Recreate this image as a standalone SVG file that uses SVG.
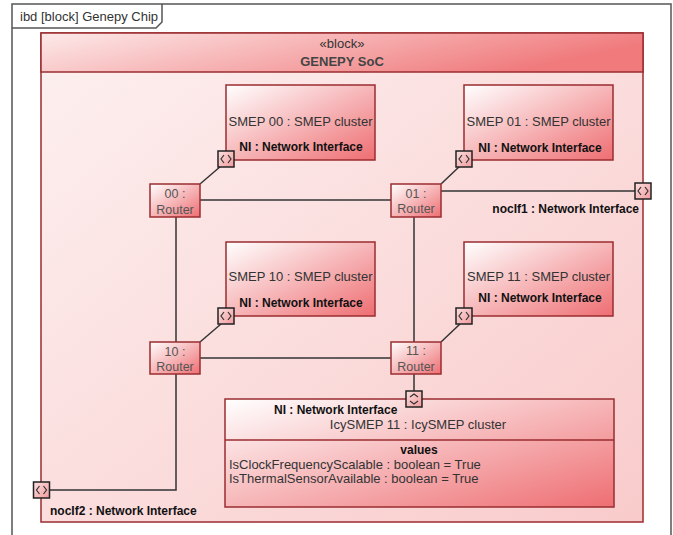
<svg xmlns="http://www.w3.org/2000/svg" width="673" height="535" viewBox="0 0 673 535">
  <defs>
    <linearGradient id="gPart" x1="0" y1="0" x2="1" y2="1">
      <stop offset="0" stop-color="#ffffff"/>
      <stop offset="1" stop-color="#ee6e72"/>
    </linearGradient>
    <linearGradient id="gBody" x1="0" y1="0" x2="1" y2="1">
      <stop offset="0" stop-color="#fdf0f0"/>
      <stop offset="1" stop-color="#f9cbcb"/>
    </linearGradient>
    <linearGradient id="gHead" x1="0" y1="0" x2="1" y2="0.3">
      <stop offset="0" stop-color="#fdeaea"/>
      <stop offset="1" stop-color="#f07a7c"/>
    </linearGradient>
    <linearGradient id="gPort" x1="0" y1="0" x2="1" y2="1">
      <stop offset="0" stop-color="#fbe0e0"/>
      <stop offset="1" stop-color="#f29a9c"/>
    </linearGradient>
    <!-- flow port: square with bidirectional chevrons -->
    <g id="portH">
      <rect x="-8" y="-8" width="16" height="16" fill="url(#gPort)" stroke="#222" stroke-width="1.5"/>
      <path d="M-2,-4 L-5,0 L-2,4 M2,-4 L5,0 L2,4" fill="none" stroke="#333" stroke-width="1.2"/>
    </g>
    <g id="portV">
      <rect x="-8" y="-8" width="16" height="16" fill="url(#gPort)" stroke="#222" stroke-width="1.5"/>
      <path d="M-4,-2 L0,-5 L4,-2 M-4,2 L0,5 L4,2" fill="none" stroke="#333" stroke-width="1.2"/>
    </g>
  </defs>
  <style>
    text { font-family: "Liberation Sans", Arial, sans-serif; fill: #333; }
    .reg { font-size: 13px; }
    .bold { font-size: 12px; font-weight: bold; fill: #111; }
    .rt { font-size: 12.5px; fill: #555; }
    .part { fill: url(#gPart); stroke: #9b2d30; stroke-width: 1.5; }
    .wire { fill: none; stroke: #333; stroke-width: 1.5; }
  </style>

  <rect width="673" height="535" fill="#ffffff"/>

  <!-- diagram frame -->
  <g id="frame">
    <rect x="12" y="4" width="659" height="545" fill="#ffffff" stroke="#555" stroke-width="1.5"/>
    <path d="M12,28 L156,28 L162,22 L162,4" fill="none" stroke="#555" stroke-width="1.5"/>
    <text x="20" y="21" class="reg">ibd [block] Genepy Chip</text>
  </g>

  <!-- owning block -->
  <g id="genepy-soc">
    <rect x="41" y="33" width="602" height="489" fill="url(#gBody)" stroke="#9b2d30" stroke-width="1.5"/>
    <rect x="41" y="33" width="602" height="39" fill="url(#gHead)" stroke="#9b2d30" stroke-width="1.5"/>
    <text x="342" y="48" class="reg" text-anchor="middle" fill="#444">«block»</text>
    <text x="342" y="65.5" text-anchor="middle" style="font-size:13px;font-weight:bold;fill:#444">GENEPY SoC</text>
  </g>

  <!-- connectors -->
  <g id="connectors">
    <path class="wire" d="M200,200 H391"/>
    <path class="wire" d="M200,358 H391"/>
    <path class="wire" d="M176,217 V342"/>
    <path class="wire" d="M414,217 V342"/>
    <path class="wire" d="M441,191 H635"/>
    <path class="wire" d="M176,374 V490 H50"/>
    <path class="wire" d="M414,374 V391"/>
    <path class="wire" d="M200,184 L221,166"/>
    <path class="wire" d="M441,184 L460,166"/>
    <path class="wire" d="M200,342 L221,324"/>
    <path class="wire" d="M441,342 L460,324"/>
  </g>

  <!-- SMEP cluster parts -->
  <g id="smep00">
    <rect x="226" y="85" width="149" height="75" class="part"/>
    <text x="300.5" y="125.5" class="reg" text-anchor="middle">SMEP 00 : SMEP cluster</text>
    <text x="301" y="151" class="bold" text-anchor="middle">NI : Network Interface</text>
    <use href="#portH" x="226" y="159"/>
  </g>
  <g id="smep01">
    <rect x="464" y="85" width="149" height="75" class="part"/>
    <text x="538.5" y="125.5" class="reg" text-anchor="middle">SMEP 01 : SMEP cluster</text>
    <text x="540" y="152" class="bold" text-anchor="middle">NI : Network Interface</text>
    <use href="#portH" x="464" y="159"/>
  </g>
  <g id="smep10">
    <rect x="226" y="242" width="149" height="74" class="part"/>
    <text x="300.5" y="281" class="reg" text-anchor="middle">SMEP 10 : SMEP cluster</text>
    <text x="301" y="307" class="bold" text-anchor="middle">NI : Network Interface</text>
    <use href="#portH" x="226" y="316"/>
  </g>
  <g id="smep11">
    <rect x="464" y="242" width="149" height="74" class="part"/>
    <text x="538.5" y="281" class="reg" text-anchor="middle">SMEP 11 : SMEP cluster</text>
    <text x="540" y="302" class="bold" text-anchor="middle">NI : Network Interface</text>
    <use href="#portH" x="464" y="316"/>
  </g>

  <!-- routers -->
  <g id="router00">
    <rect x="150" y="184" width="50" height="33" class="part"/>
    <text x="175" y="197.5" class="rt" text-anchor="middle">00 :</text>
    <text x="175" y="213.5" class="rt" text-anchor="middle">Router</text>
  </g>
  <g id="router01">
    <rect x="391" y="184" width="50" height="33" class="part"/>
    <text x="416" y="197.5" class="rt" text-anchor="middle">01 :</text>
    <text x="416" y="213" class="rt" text-anchor="middle">Router</text>
  </g>
  <g id="router10">
    <rect x="150" y="342" width="50" height="32" class="part"/>
    <text x="175" y="355.5" class="rt" text-anchor="middle">10 :</text>
    <text x="175" y="371" class="rt" text-anchor="middle">Router</text>
  </g>
  <g id="router11">
    <rect x="391" y="342" width="50" height="32" class="part"/>
    <text x="416" y="355" class="rt" text-anchor="middle">11 :</text>
    <text x="416" y="370.5" class="rt" text-anchor="middle">Router</text>
  </g>

  <!-- IcySMEP cluster part -->
  <g id="icysmep11">
    <rect x="225" y="399" width="389" height="108" class="part"/>
    <line x1="225" y1="440" x2="614" y2="440" stroke="#9b2d30" stroke-width="1.5"/>
    <text x="274" y="414" class="bold">NI : Network Interface</text>
    <text x="418" y="428.5" class="reg" text-anchor="middle" fill="#444">IcySMEP 11 : IcySMEP cluster</text>
    <text x="419" y="454" class="bold" text-anchor="middle" fill="#333">values</text>
    <text x="229" y="468.5" class="reg">IsClockFrequencyScalable : boolean = True</text>
    <text x="229" y="483" class="reg">IsThermalSensorAvailable : boolean = True</text>
    <use href="#portV" x="414" y="399"/>
  </g>

  <!-- boundary ports -->
  <g id="nocIf1">
    <use href="#portH" x="643" y="191"/>
    <text x="639" y="213" class="bold" text-anchor="end">nocIf1 : Network Interface</text>
  </g>
  <g id="nocIf2">
    <use href="#portH" x="41.5" y="490"/>
    <text x="50" y="515" class="bold">nocIf2 : Network Interface</text>
  </g>
</svg>
